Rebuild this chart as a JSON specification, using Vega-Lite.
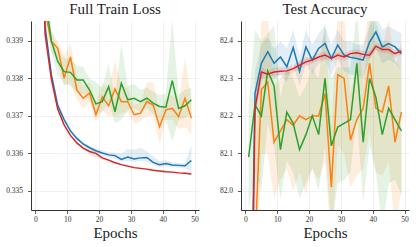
{
  "$schema": "https://vega.github.io/schema/vega-lite/v6.json",
  "padding": {"left": 5, "right": 5, "top": 2, "bottom": 4},
  "spacing": 20,
  "config": {
    "font": "Liberation Serif",
    "view": {"stroke": null},
    "title": {"fontSize": 15, "fontWeight": "normal", "font": "Liberation Serif", "color": "#222", "offset": 4},
    "axis": {
      "labelFont": "Liberation Serif", "labelFontSize": 7.5, "labelColor": "#333",
      "titleFont": "Liberation Serif", "titleFontSize": 15, "titleFontWeight": "normal", "titleColor": "#222",
      "domainColor": "#333", "domainWidth": 1, "tickColor": "#333", "tickSize": 3.5, "tickWidth": 0.8,
      "gridColor": "#eeeeee", "gridWidth": 0.8
    }
  },
  "datasets": {
    "loss": [
      {"method":"A","epoch":1,"mean":0.3462,"lo":0.3461,"hi":0.3463},
      {"method":"A","epoch":3,"mean":0.3394,"lo":0.33935,"hi":0.33945},
      {"method":"A","epoch":5,"mean":0.3381,"lo":0.33805,"hi":0.33815},
      {"method":"A","epoch":7,"mean":0.33728,"lo":0.33723,"hi":0.33733},
      {"method":"A","epoch":9,"mean":0.3369,"lo":0.33685,"hi":0.33695},
      {"method":"A","epoch":11,"mean":0.3366,"lo":0.33655,"hi":0.33665},
      {"method":"A","epoch":13,"mean":0.3364,"lo":0.33636,"hi":0.33645},
      {"method":"A","epoch":15,"mean":0.33625,"lo":0.3362,"hi":0.3363},
      {"method":"A","epoch":17,"mean":0.33615,"lo":0.3361,"hi":0.3362},
      {"method":"A","epoch":19,"mean":0.33607,"lo":0.33602,"hi":0.33613},
      {"method":"A","epoch":21,"mean":0.33601,"lo":0.33596,"hi":0.33608},
      {"method":"A","epoch":23,"mean":0.33596,"lo":0.3359,"hi":0.33603},
      {"method":"A","epoch":25,"mean":0.33594,"lo":0.33586,"hi":0.33602},
      {"method":"A","epoch":27,"mean":0.33584,"lo":0.33578,"hi":0.336},
      {"method":"A","epoch":29,"mean":0.3359,"lo":0.3358,"hi":0.33612},
      {"method":"A","epoch":31,"mean":0.33585,"lo":0.33578,"hi":0.3361},
      {"method":"A","epoch":33,"mean":0.33588,"lo":0.3358,"hi":0.33615},
      {"method":"A","epoch":35,"mean":0.33589,"lo":0.33578,"hi":0.33606},
      {"method":"A","epoch":37,"mean":0.33576,"lo":0.3357,"hi":0.33592},
      {"method":"A","epoch":39,"mean":0.3357,"lo":0.33563,"hi":0.3358},
      {"method":"A","epoch":41,"mean":0.33573,"lo":0.33566,"hi":0.33582},
      {"method":"A","epoch":43,"mean":0.33569,"lo":0.33563,"hi":0.33576},
      {"method":"A","epoch":45,"mean":0.33568,"lo":0.33562,"hi":0.33575},
      {"method":"A","epoch":47,"mean":0.33567,"lo":0.3356,"hi":0.33574},
      {"method":"A","epoch":49,"mean":0.33581,"lo":0.3355,"hi":0.33622},
      {"method":"B","epoch":1,"mean":0.345,"lo":0.3445,"hi":0.3455},
      {"method":"B","epoch":3,"mean":0.3398,"lo":0.3394,"hi":0.3402},
      {"method":"B","epoch":5,"mean":0.33898,"lo":0.3387,"hi":0.33925},
      {"method":"B","epoch":7,"mean":0.33881,"lo":0.3385,"hi":0.339},
      {"method":"B","epoch":9,"mean":0.33801,"lo":0.3378,"hi":0.3386},
      {"method":"B","epoch":11,"mean":0.33857,"lo":0.3379,"hi":0.33895},
      {"method":"B","epoch":13,"mean":0.33769,"lo":0.33745,"hi":0.3381},
      {"method":"B","epoch":15,"mean":0.33747,"lo":0.3372,"hi":0.3378},
      {"method":"B","epoch":17,"mean":0.33761,"lo":0.33735,"hi":0.3379},
      {"method":"B","epoch":19,"mean":0.33703,"lo":0.33685,"hi":0.3373},
      {"method":"B","epoch":21,"mean":0.33751,"lo":0.33715,"hi":0.3379},
      {"method":"B","epoch":23,"mean":0.33727,"lo":0.337,"hi":0.3377},
      {"method":"B","epoch":25,"mean":0.33772,"lo":0.337,"hi":0.3385},
      {"method":"B","epoch":27,"mean":0.33738,"lo":0.33705,"hi":0.3378},
      {"method":"B","epoch":29,"mean":0.33738,"lo":0.3371,"hi":0.33775},
      {"method":"B","epoch":31,"mean":0.33703,"lo":0.3368,"hi":0.3373},
      {"method":"B","epoch":33,"mean":0.33707,"lo":0.33685,"hi":0.33735},
      {"method":"B","epoch":35,"mean":0.33738,"lo":0.337,"hi":0.3379},
      {"method":"B","epoch":37,"mean":0.33729,"lo":0.337,"hi":0.3379},
      {"method":"B","epoch":39,"mean":0.33671,"lo":0.33625,"hi":0.3371},
      {"method":"B","epoch":41,"mean":0.33716,"lo":0.3369,"hi":0.33745},
      {"method":"B","epoch":43,"mean":0.3372,"lo":0.3369,"hi":0.33755},
      {"method":"B","epoch":45,"mean":0.33698,"lo":0.33665,"hi":0.3374},
      {"method":"B","epoch":47,"mean":0.33747,"lo":0.3367,"hi":0.33857},
      {"method":"B","epoch":49,"mean":0.33694,"lo":0.3365,"hi":0.3374},
      {"method":"C","epoch":1,"mean":0.345,"lo":0.3445,"hi":0.3455},
      {"method":"C","epoch":3,"mean":0.3402,"lo":0.3398,"hi":0.3406},
      {"method":"C","epoch":5,"mean":0.339,"lo":0.3387,"hi":0.3393},
      {"method":"C","epoch":7,"mean":0.33845,"lo":0.3381,"hi":0.3388},
      {"method":"C","epoch":9,"mean":0.33818,"lo":0.33785,"hi":0.33855},
      {"method":"C","epoch":11,"mean":0.33816,"lo":0.3378,"hi":0.3385},
      {"method":"C","epoch":13,"mean":0.33796,"lo":0.3376,"hi":0.33835},
      {"method":"C","epoch":15,"mean":0.33796,"lo":0.3376,"hi":0.3383},
      {"method":"C","epoch":17,"mean":0.33769,"lo":0.3374,"hi":0.338},
      {"method":"C","epoch":19,"mean":0.33732,"lo":0.33705,"hi":0.3379},
      {"method":"C","epoch":21,"mean":0.33738,"lo":0.3371,"hi":0.33775},
      {"method":"C","epoch":23,"mean":0.33778,"lo":0.3374,"hi":0.3384},
      {"method":"C","epoch":25,"mean":0.33711,"lo":0.3368,"hi":0.33745},
      {"method":"C","epoch":27,"mean":0.33787,"lo":0.3369,"hi":0.33894},
      {"method":"C","epoch":29,"mean":0.33743,"lo":0.33715,"hi":0.3378},
      {"method":"C","epoch":31,"mean":0.33747,"lo":0.3372,"hi":0.33785},
      {"method":"C","epoch":33,"mean":0.33738,"lo":0.3371,"hi":0.3377},
      {"method":"C","epoch":35,"mean":0.33747,"lo":0.3372,"hi":0.33775},
      {"method":"C","epoch":37,"mean":0.33734,"lo":0.33705,"hi":0.33765},
      {"method":"C","epoch":39,"mean":0.33725,"lo":0.3369,"hi":0.33755},
      {"method":"C","epoch":41,"mean":0.33723,"lo":0.3369,"hi":0.3376},
      {"method":"C","epoch":43,"mean":0.33794,"lo":0.33631,"hi":0.3396},
      {"method":"C","epoch":45,"mean":0.3372,"lo":0.3369,"hi":0.33755},
      {"method":"C","epoch":47,"mean":0.33727,"lo":0.33695,"hi":0.3377},
      {"method":"C","epoch":49,"mean":0.33743,"lo":0.3371,"hi":0.33775},
      {"method":"D","epoch":1,"mean":0.346,"lo":0.3459,"hi":0.3461},
      {"method":"D","epoch":3,"mean":0.3392,"lo":0.33915,"hi":0.33925},
      {"method":"D","epoch":5,"mean":0.33798,"lo":0.33795,"hi":0.33801},
      {"method":"D","epoch":7,"mean":0.33718,"lo":0.33715,"hi":0.33721},
      {"method":"D","epoch":9,"mean":0.33676,"lo":0.33673,"hi":0.33679},
      {"method":"D","epoch":11,"mean":0.33648,"lo":0.33645,"hi":0.33651},
      {"method":"D","epoch":13,"mean":0.33628,"lo":0.33625,"hi":0.33631},
      {"method":"D","epoch":15,"mean":0.33614,"lo":0.33611,"hi":0.33617},
      {"method":"D","epoch":17,"mean":0.33605,"lo":0.33598,"hi":0.3361},
      {"method":"D","epoch":19,"mean":0.336,"lo":0.3359,"hi":0.33605},
      {"method":"D","epoch":21,"mean":0.33588,"lo":0.33584,"hi":0.33592},
      {"method":"D","epoch":23,"mean":0.33582,"lo":0.33579,"hi":0.33585},
      {"method":"D","epoch":25,"mean":0.33575,"lo":0.33572,"hi":0.33578},
      {"method":"D","epoch":27,"mean":0.3357,"lo":0.33567,"hi":0.33573},
      {"method":"D","epoch":29,"mean":0.33566,"lo":0.33563,"hi":0.33569},
      {"method":"D","epoch":31,"mean":0.33562,"lo":0.3356,"hi":0.33565},
      {"method":"D","epoch":33,"mean":0.3356,"lo":0.33558,"hi":0.33562},
      {"method":"D","epoch":35,"mean":0.33558,"lo":0.33556,"hi":0.3356},
      {"method":"D","epoch":37,"mean":0.33555,"lo":0.33553,"hi":0.33557},
      {"method":"D","epoch":39,"mean":0.33553,"lo":0.33551,"hi":0.33555},
      {"method":"D","epoch":41,"mean":0.33551,"lo":0.33549,"hi":0.33553},
      {"method":"D","epoch":43,"mean":0.3355,"lo":0.33548,"hi":0.33552},
      {"method":"D","epoch":45,"mean":0.33548,"lo":0.33546,"hi":0.3355},
      {"method":"D","epoch":47,"mean":0.33547,"lo":0.33545,"hi":0.33549},
      {"method":"D","epoch":49,"mean":0.33545,"lo":0.33543,"hi":0.33547}
    ],
    "acc": [
      {"method":"A","epoch":1,"mean":81.2,"lo":81.0,"hi":81.4},
      {"method":"A","epoch":3,"mean":82.26,"lo":82.2,"hi":82.32},
      {"method":"A","epoch":5,"mean":82.34,"lo":82.29,"hi":82.39},
      {"method":"A","epoch":7,"mean":82.371,"lo":82.33,"hi":82.41},
      {"method":"A","epoch":9,"mean":82.34,"lo":82.3,"hi":82.38},
      {"method":"A","epoch":11,"mean":82.357,"lo":82.31,"hi":82.4},
      {"method":"A","epoch":13,"mean":82.331,"lo":82.29,"hi":82.38},
      {"method":"A","epoch":15,"mean":82.382,"lo":82.34,"hi":82.43},
      {"method":"A","epoch":17,"mean":82.319,"lo":82.28,"hi":82.36},
      {"method":"A","epoch":19,"mean":82.384,"lo":82.34,"hi":82.43},
      {"method":"A","epoch":21,"mean":82.349,"lo":82.31,"hi":82.39},
      {"method":"A","epoch":23,"mean":82.38,"lo":82.34,"hi":82.42},
      {"method":"A","epoch":25,"mean":82.393,"lo":82.35,"hi":82.44},
      {"method":"A","epoch":27,"mean":82.353,"lo":82.31,"hi":82.39},
      {"method":"A","epoch":29,"mean":82.389,"lo":82.35,"hi":82.43},
      {"method":"A","epoch":31,"mean":82.362,"lo":82.32,"hi":82.4},
      {"method":"A","epoch":33,"mean":82.356,"lo":82.31,"hi":82.4},
      {"method":"A","epoch":35,"mean":82.353,"lo":82.31,"hi":82.39},
      {"method":"A","epoch":37,"mean":82.349,"lo":82.3,"hi":82.39},
      {"method":"A","epoch":39,"mean":82.397,"lo":82.35,"hi":82.44},
      {"method":"A","epoch":41,"mean":82.424,"lo":82.38,"hi":82.47},
      {"method":"A","epoch":43,"mean":82.384,"lo":82.34,"hi":82.43},
      {"method":"A","epoch":45,"mean":82.393,"lo":82.35,"hi":82.44},
      {"method":"A","epoch":47,"mean":82.384,"lo":82.34,"hi":82.43},
      {"method":"A","epoch":49,"mean":82.366,"lo":82.32,"hi":82.42},
      {"method":"B","epoch":1,"mean":81.5,"lo":81.2,"hi":81.8},
      {"method":"B","epoch":3,"mean":81.85,"lo":81.6,"hi":82.1},
      {"method":"B","epoch":5,"mean":82.27,"lo":82.1,"hi":82.45},
      {"method":"B","epoch":7,"mean":82.29,"lo":82.1,"hi":82.47},
      {"method":"B","epoch":9,"mean":82.13,"lo":81.98,"hi":82.28},
      {"method":"B","epoch":11,"mean":82.16,"lo":82.03,"hi":82.3},
      {"method":"B","epoch":13,"mean":82.19,"lo":82.06,"hi":82.32},
      {"method":"B","epoch":15,"mean":82.175,"lo":82.0,"hi":82.33},
      {"method":"B","epoch":17,"mean":82.2,"lo":82.05,"hi":82.35},
      {"method":"B","epoch":19,"mean":82.19,"lo":81.99,"hi":82.36},
      {"method":"B","epoch":21,"mean":82.2,"lo":82.06,"hi":82.35},
      {"method":"B","epoch":23,"mean":82.2,"lo":82.03,"hi":82.36},
      {"method":"B","epoch":25,"mean":82.26,"lo":82.08,"hi":82.43},
      {"method":"B","epoch":27,"mean":82.01,"lo":81.85,"hi":82.17},
      {"method":"B","epoch":29,"mean":82.31,"lo":82.12,"hi":82.48},
      {"method":"B","epoch":31,"mean":82.3,"lo":82.1,"hi":82.47},
      {"method":"B","epoch":33,"mean":82.135,"lo":82.01,"hi":82.26},
      {"method":"B","epoch":35,"mean":82.19,"lo":82.04,"hi":82.34},
      {"method":"B","epoch":37,"mean":82.22,"lo":82.06,"hi":82.38},
      {"method":"B","epoch":39,"mean":82.34,"lo":82.16,"hi":82.5},
      {"method":"B","epoch":41,"mean":82.22,"lo":82.05,"hi":82.38},
      {"method":"B","epoch":43,"mean":82.21,"lo":82.04,"hi":82.38},
      {"method":"B","epoch":45,"mean":82.28,"lo":82.08,"hi":82.46},
      {"method":"B","epoch":47,"mean":82.13,"lo":81.9,"hi":82.33},
      {"method":"B","epoch":49,"mean":82.21,"lo":82.0,"hi":82.4},
      {"method":"C","epoch":1,"mean":82.09,"lo":81.95,"hi":82.23},
      {"method":"C","epoch":3,"mean":82.23,"lo":82.05,"hi":82.43},
      {"method":"C","epoch":5,"mean":82.2,"lo":82.0,"hi":82.4},
      {"method":"C","epoch":7,"mean":82.32,"lo":82.18,"hi":82.42},
      {"method":"C","epoch":9,"mean":82.28,"lo":82.12,"hi":82.44},
      {"method":"C","epoch":11,"mean":82.11,"lo":81.98,"hi":82.25},
      {"method":"C","epoch":13,"mean":82.21,"lo":82.08,"hi":82.33},
      {"method":"C","epoch":15,"mean":82.18,"lo":82.05,"hi":82.3},
      {"method":"C","epoch":17,"mean":82.11,"lo":81.98,"hi":82.25},
      {"method":"C","epoch":19,"mean":82.15,"lo":82.02,"hi":82.28},
      {"method":"C","epoch":21,"mean":82.2,"lo":82.06,"hi":82.33},
      {"method":"C","epoch":23,"mean":82.15,"lo":82.0,"hi":82.3},
      {"method":"C","epoch":25,"mean":82.3,"lo":82.12,"hi":82.45},
      {"method":"C","epoch":27,"mean":82.12,"lo":81.9,"hi":82.3},
      {"method":"C","epoch":29,"mean":82.17,"lo":82.02,"hi":82.33},
      {"method":"C","epoch":31,"mean":82.18,"lo":82.03,"hi":82.33},
      {"method":"C","epoch":33,"mean":82.19,"lo":82.05,"hi":82.33},
      {"method":"C","epoch":35,"mean":82.34,"lo":82.2,"hi":82.48},
      {"method":"C","epoch":37,"mean":82.13,"lo":81.97,"hi":82.28},
      {"method":"C","epoch":39,"mean":82.3,"lo":82.12,"hi":82.46},
      {"method":"C","epoch":41,"mean":82.25,"lo":82.05,"hi":82.45},
      {"method":"C","epoch":43,"mean":82.15,"lo":81.9,"hi":82.4},
      {"method":"C","epoch":45,"mean":82.22,"lo":82.02,"hi":82.4},
      {"method":"C","epoch":47,"mean":82.19,"lo":82.03,"hi":82.35},
      {"method":"C","epoch":49,"mean":82.16,"lo":81.99,"hi":82.32},
      {"method":"D","epoch":1,"mean":81.0,"lo":80.9,"hi":81.1},
      {"method":"D","epoch":3,"mean":82.22,"lo":82.19,"hi":82.25},
      {"method":"D","epoch":5,"mean":82.317,"lo":82.3,"hi":82.33},
      {"method":"D","epoch":7,"mean":82.311,"lo":82.3,"hi":82.32},
      {"method":"D","epoch":9,"mean":82.317,"lo":82.305,"hi":82.33},
      {"method":"D","epoch":11,"mean":82.319,"lo":82.31,"hi":82.33},
      {"method":"D","epoch":13,"mean":82.32,"lo":82.31,"hi":82.33},
      {"method":"D","epoch":15,"mean":82.326,"lo":82.315,"hi":82.337},
      {"method":"D","epoch":17,"mean":82.335,"lo":82.325,"hi":82.345},
      {"method":"D","epoch":19,"mean":82.344,"lo":82.334,"hi":82.354},
      {"method":"D","epoch":21,"mean":82.349,"lo":82.339,"hi":82.359},
      {"method":"D","epoch":23,"mean":82.357,"lo":82.347,"hi":82.367},
      {"method":"D","epoch":25,"mean":82.362,"lo":82.352,"hi":82.372},
      {"method":"D","epoch":27,"mean":82.353,"lo":82.343,"hi":82.363},
      {"method":"D","epoch":29,"mean":82.362,"lo":82.352,"hi":82.372},
      {"method":"D","epoch":31,"mean":82.357,"lo":82.347,"hi":82.367},
      {"method":"D","epoch":33,"mean":82.366,"lo":82.356,"hi":82.376},
      {"method":"D","epoch":35,"mean":82.368,"lo":82.358,"hi":82.378},
      {"method":"D","epoch":37,"mean":82.364,"lo":82.354,"hi":82.374},
      {"method":"D","epoch":39,"mean":82.362,"lo":82.352,"hi":82.372},
      {"method":"D","epoch":41,"mean":82.386,"lo":82.376,"hi":82.396},
      {"method":"D","epoch":43,"mean":82.377,"lo":82.367,"hi":82.387},
      {"method":"D","epoch":45,"mean":82.377,"lo":82.367,"hi":82.387},
      {"method":"D","epoch":47,"mean":82.366,"lo":82.356,"hi":82.376},
      {"method":"D","epoch":49,"mean":82.373,"lo":82.363,"hi":82.383}
    ]
  },
  "hconcat": [
    {
      "width": 168, "height": 189,
      "title": "Full Train Loss",
      "data": {"name": "loss"},
      "encoding": {
        "x": {"field": "epoch", "type": "quantitative", "scale": {"domain": [-1.4, 51.4], "nice": false, "zero": false},
              "axis": {"values": [0,10,20,30,40,50], "title": "Epochs", "labelPadding": 2, "titlePadding": 2}},
        "color": {"field": "method", "type": "nominal", "legend": null,
                  "scale": {"domain": ["A","B","C","D"], "range": ["#1f77b4","#ff7f0e","#2ca02c","#d62728"]}}
      },
      "layer": [
        {"mark": {"type": "area", "clip": true, "opacity": 0.13},
         "encoding": {
           "y": {"field": "lo", "type": "quantitative", "scale": {"domain": [0.33449, 0.33953], "nice": false, "zero": false},
                 "axis": {"values": [0.335,0.336,0.337,0.338,0.339], "format": ".3f", "title": null, "labelPadding": 5}},
           "y2": {"field": "hi"}}},
        {"mark": {"type": "line", "clip": true, "strokeWidth": 1.5},
         "encoding": {"y": {"field": "mean", "type": "quantitative"}}}
      ]
    },
    {
      "width": 168, "height": 189,
      "title": "Test Accuracy",
      "data": {"name": "acc"},
      "encoding": {
        "x": {"field": "epoch", "type": "quantitative", "scale": {"domain": [-1.4, 51.4], "nice": false, "zero": false},
              "axis": {"values": [0,10,20,30,40,50], "title": "Epochs", "labelPadding": 2, "titlePadding": 2}},
        "color": {"field": "method", "type": "nominal", "legend": null,
                  "scale": {"domain": ["A","B","C","D"], "range": ["#1f77b4","#ff7f0e","#2ca02c","#d62728"]}}
      },
      "layer": [
        {"mark": {"type": "area", "clip": true, "opacity": 0.13},
         "encoding": {
           "y": {"field": "lo", "type": "quantitative", "scale": {"domain": [81.949, 82.453], "nice": false, "zero": false},
                 "axis": {"values": [82.0,82.1,82.2,82.3,82.4], "format": ".1f", "title": null, "labelPadding": 5}},
           "y2": {"field": "hi"}}},
        {"mark": {"type": "line", "clip": true, "strokeWidth": 1.5},
         "encoding": {"y": {"field": "mean", "type": "quantitative"}}}
      ]
    }
  ],
  "resolve": {"scale": {"color": "shared"}}
}
